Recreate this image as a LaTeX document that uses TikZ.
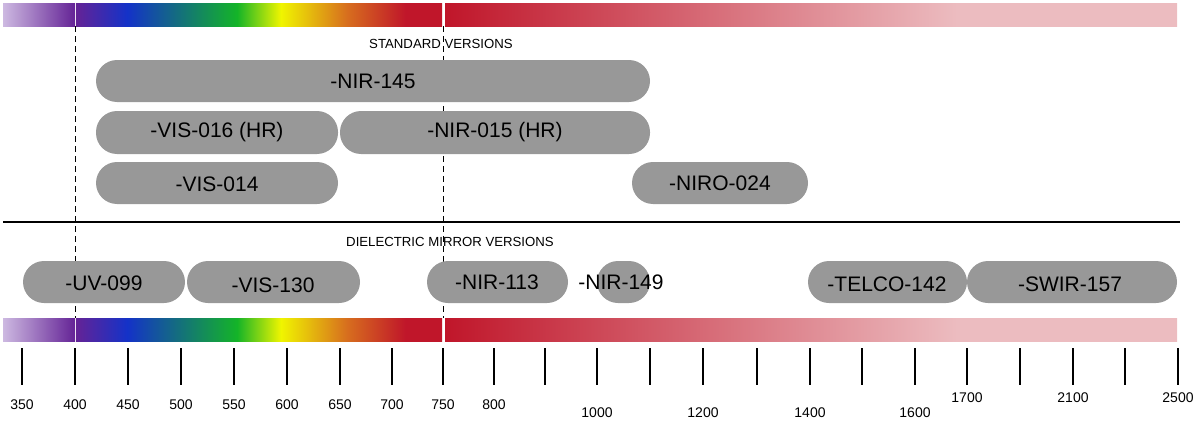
\documentclass[tikz,border=0pt]{standalone}
\usepackage{fontspec}
\setmainfont{Liberation Sans}
\definecolor{pillc}{RGB}{152,152,152}
\definecolor{lav}{RGB}{205,185,225}
\definecolor{pur}{RGB}{100,35,150}
\definecolor{blu}{RGB}{20,50,200}
\definecolor{grn}{RGB}{20,180,40}
\definecolor{yel}{RGB}{240,245,0}
\definecolor{org}{RGB}{215,110,30}
\definecolor{rd}{RGB}{192,22,42}
\definecolor{pnk}{RGB}{236,188,192}
\pgfdeclarehorizontalshading{lavsh}{100bp}{color(0bp)=(lav); color(25bp)=(lav); color(75bp)=(pur); color(100bp)=(pur)}
\pgfdeclarehorizontalshading{rainsh}{100bp}{color(0bp)=(pur); color(25bp)=(pur); color(32bp)=(blu); color(47bp)=(grn); color(53bp)=(yel); color(62bp)=(org); color(70bp)=(rd); color(75bp)=(rd); color(100bp)=(rd)}
\pgfdeclarehorizontalshading{pnksh}{100bp}{color(0bp)=(rd); color(25bp)=(rd); color(60bp)=(pnk); color(75bp)=(pnk); color(100bp)=(pnk)}
\tikzset{
 pill/.style={fill=pillc, rounded corners=10.5pt},
 ptxt/.style={font=\fontsize{10.5}{12}\selectfont, inner sep=0pt},
 small/.style={font=\fontsize{6.6}{8}\selectfont, inner sep=0pt},
 tlab/.style={font=\fontsize{7}{8}\selectfont, inner sep=0pt},
 tick/.style={line width=1pt},
 dash/.style={}
}
\newcommand{\pillbox}[5]{\fill[pill] (#1,#3) rectangle (#2,#4); \node[ptxt] (#5) at ({(#1+#2)/2},{(#3+#4)/2}) {};}
\begin{document}
\begin{tikzpicture}[x=0.5pt,y=-0.5pt]
\useasboundingbox (0,0) rectangle (1200,428);
% bars
\foreach \y in {3,318}{
 \shade[shading=lavsh] (3,\y) rectangle (75,\y+23);
 \shade[shading=rainsh] (76,\y) rectangle (442,\y+23);
 \shade[shading=pnksh] (445,\y) rectangle (1177,\y+23);
}
% dashed lines
\draw[densely dashed, line width=0.5pt] (75,26) -- (75,318);
\draw[densely dashed, line width=0.5pt] (443,26) -- (443,318);
\draw[line width=1pt] (3,222) -- (1180,222);
\node[small] (std) at (441,44) {STANDARD VERSIONS};
\node[small] (die) at (450,242) {DIELECTRIC MIRROR VERSIONS};
% pills
\fill[pill] (96,60) rectangle (650,102); \node[ptxt] (p1) at (373,81) {-NIR-145};
\fill[pill] (96,111) rectangle (338,154); \node[ptxt] (p2) at (217,132) {-VIS-016 (HR)};
\fill[pill] (340,111) rectangle (650,154); \node[ptxt] (p3) at (495,132) {-NIR-015 (HR)};
\fill[pill] (96,162) rectangle (338,204); \node[ptxt] (p4) at (217,184) {-VIS-014};
\fill[pill] (632,162) rectangle (808,204); \node[ptxt] (p5) at (720,183) {-NIRO-024};
\fill[pill] (23,261) rectangle (185,303); \node[ptxt] (p6) at (104,283) {-UV-099};
\fill[pill] (187,261) rectangle (360,303); \node[ptxt] (p7) at (273,285) {-VIS-130};
\fill[pill] (427,261) rectangle (568,303); \node[ptxt] (p8) at (497,282) {-NIR-113};
\fill[pill] (597,261) rectangle (650,303); \node[ptxt] (p9) at (621,282) {-NIR-149};
\fill[pill] (808,261) rectangle (967,303); \node[ptxt] (p10) at (887,284) {-TELCO-142};
\fill[pill] (967,261) rectangle (1177,303); \node[ptxt] (p11) at (1070,284) {-SWIR-157};
% ticks
\foreach \x in {22,75,128,181,234,287,340,392,443,494,545,597,650,703,757,810,862,915,967,1020,1073,1125,1178}
 \draw[tick] (\x,348) -- (\x,385);
\foreach \x/\t in {22/350,75/400,128/450,181/500,234/550,287/600,340/650,392/700,443/750,494/800}
 \node[tlab] at (\x,405) {\t};
\foreach \x/\t in {597/1000,703/1200,810/1400,915/1600}
 \node[tlab] at (\x,413) {\t};
\node[tlab] at (967,398) {1700};
\node[tlab] at (1073,398) {2100};
\node[tlab] at (1178,398) {2500};
\end{tikzpicture}
\end{document}
